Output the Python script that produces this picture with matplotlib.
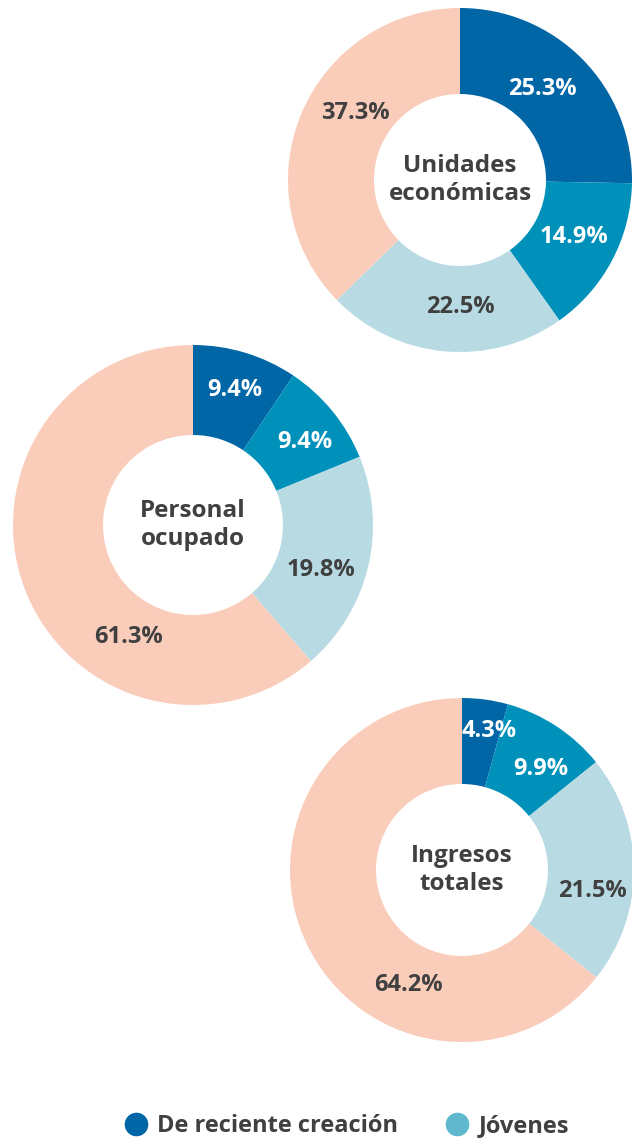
import matplotlib.pyplot as plt
from matplotlib.lines import Line2D

plt.rcParams['font.family'] = ['Open Sans', 'DejaVu Sans']

# datos
titulos = ["Unidades\neconómicas", "Personal\nocupado", "Ingresos\ntotales"]
valores_ue = [25.3, 14.9, 22.5, 37.3]
valores_po = [9.4, 9.4, 19.8, 61.3]
valores_it = [4.3, 9.9, 21.5, 64.2]
leyenda = ["De reciente creación", "Jóvenes"]

colores = ["#0066a6", "#0091bb", "#b8dae3", "#facdbb"]
color_leyenda = ["#0066a6", "#5fb8cd"]
gris = "#404040"

W, H = 632, 1141
fig = plt.figure(figsize=(W / 100, H / 100), dpi=100)

# centro (px), radio exterior (px), posición de etiquetas (fracción del radio)
layout = [
    ((460, 180), 172, [(0.48, 0.53), (0.66, -0.33), (0.0, -0.74), (-0.61, 0.39)]),
    ((193, 525), 180, [(0.23, 0.75), (0.62, 0.46), (0.71, -0.25), (-0.36, -0.62)]),
    ((462, 870), 172, [(0.16, 0.81), (0.46, 0.59), (0.76, -0.12), (-0.31, -0.67)]),
]

for titulo, vals, (centro, R, pos) in zip(titulos, [valores_ue, valores_po, valores_it], layout):
    cx, cy = centro
    ax = fig.add_axes([(cx - R) / W, 1 - (cy + R) / H, 2 * R / W, 2 * R / H])
    ax.pie(vals, colors=colores, startangle=90, counterclock=False,
           radius=1, wedgeprops=dict(width=0.5, linewidth=0))
    ax.set_xlim(-1, 1)
    ax.set_ylim(-1, 1)
    ax.set_aspect('equal')
    ax.axis('off')
    for i, (v, (x, y)) in enumerate(zip(vals, pos)):
        c = "white" if i < 2 else gris
        ax.text(x, y, f"{v:.1f}%", ha='center', va='center', color=c,
                fontsize=17, fontweight='bold')
    ax.text(0, 0, titulo, ha='center', va='center', color=gris,
            fontsize=17.5, fontweight='bold', linespacing=1.2)

handles = [Line2D([], [], marker='o', linestyle='', markersize=17,
                  markerfacecolor=c, markeredgewidth=0) for c in color_leyenda]
fig.legend(handles, leyenda, loc='center left', bbox_to_anchor=(103 / W, 1 - 1126 / H),
           ncol=2, frameon=False, handletextpad=0.4, columnspacing=2.0,
           prop=dict(size=17, weight='bold'), labelcolor=gris, handlelength=1.0)

plt.savefig("out.png", dpi=100)
